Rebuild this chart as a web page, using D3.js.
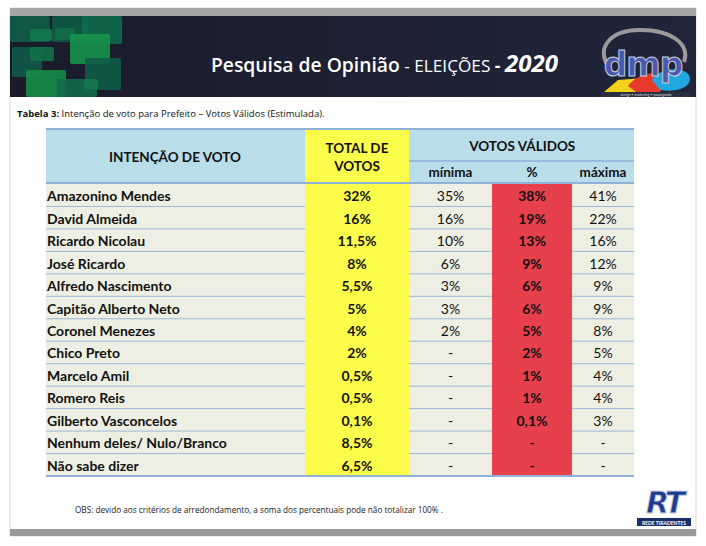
<!DOCTYPE html>
<html><head><meta charset="utf-8">
<script src="https://cdn.jsdelivr.net/npm/d3@7"></script>
<style>body{margin:0;background:#fff}svg{display:block}</style>
</head><body>
<svg id="c" width="706" height="546"></svg>
<script>
const names = ["Amazonino Mendes","David Almeida","Ricardo Nicolau","José Ricardo","Alfredo Nascimento","Capitão Alberto Neto","Coronel Menezes","Chico Preto","Marcelo Amil","Romero Reis","Gilberto Vasconcelos","Nenhum deles/ Nulo/Branco","Não sabe dizer"];
const totalVotos = ["32%","16%","11,5%","8%","5,5%","5%","4%","2%","0,5%","0,5%","0,1%","8,5%","6,5%"];
const minima = ["35%","16%","10%","6%","3%","3%","2%","-","-","-","-","-","-"];
const pct = ["38%","19%","13%","9%","6%","6%","5%","2%","1%","1%","0,1%","-","-"];
const maxima = ["41%","22%","16%","12%","9%","9%","8%","5%","4%","4%","3%","-","-"];
const columns = ["nome","total","minima","pct","maxima"];

const svg = d3.select("#c");
const F = "Lato, 'Open Sans', sans-serif";

// page frame
svg.append("rect").attr("x",10).attr("y",8).attr("width",686).attr("height",528).attr("fill","#fff").attr("stroke","#d8d8d8");
svg.append("rect").attr("x",10).attr("y",8).attr("width",686).attr("height",8).attr("fill","#a6a6a6");
svg.append("rect").attr("x",10).attr("y",529).attr("width",686).attr("height",7).attr("fill","#9a9a9a");

// banner
const defs = svg.append("defs");
const g1 = defs.append("linearGradient").attr("id","bn").attr("x1","0").attr("x2","1");
g1.append("stop").attr("offset","0").attr("stop-color","#1a1c2a");
g1.append("stop").attr("offset","1").attr("stop-color","#20253a");
svg.append("rect").attr("x",10).attr("y",16).attr("width",686).attr("height",81).attr("fill","url(#bn)");
// decorative green squares
const sq = [[10,16,40,26,"#0f5f48"],[52,16,36,26,"#0e5a45"],[82,16,40,28,"#106b4d"],[30,29,22,12,"#137a4c"],[55,28,20,12,"#117048"],[70,34,40,30,"#16924d"],[12,47,30,30,"#0f5a47"],[30,47,24,14,"#127048"],[85,58,36,32,"#0e5c47"],[26,70,40,27,"#178c48"],[57,79,40,18,"#126a4a"],[84,79,14,10,"#14774b"]];
svg.append("g").selectAll("rect").data(sq).join("rect")
  .attr("x",d=>d[0]).attr("y",d=>d[1]).attr("width",d=>d[2]).attr("height",d=>d[3])
  .attr("rx",2).attr("fill",d=>d[4]).attr("opacity",0.9);

const title = svg.append("text").attr("x",211).attr("y",72).attr("fill","#fff").attr("font-family","'Open Sans', sans-serif");
title.append("tspan").attr("font-weight","600").attr("font-size",19.3).text("Pesquisa de Opinião");
title.append("tspan").attr("font-size",17.2).text(" - ELEIÇÕES ");
title.append("tspan").attr("font-weight","700").attr("font-size",17.5).text("- ");
title.append("tspan").attr("font-weight","700").attr("font-style","italic").attr("font-size",24).text("2020");

// dmp logo
const lg = svg.append("g");
lg.append("path").attr("d","M608,66 C596,46 612,30 640,30 C672,30 690,44 684,62").attr("fill","none").attr("stroke","#9a9a9a").attr("stroke-width",4);
lg.append("path").attr("d","M604,92 L618,80 L644,78 L652,92 Z").attr("fill","#f2d21a");
lg.append("path").attr("d","M628,86 C636,74 660,68 668,78 L660,92 L636,92 Z").attr("fill","#e63a2e");
lg.append("path").attr("d","M652,80 C660,66 688,66 690,78 C690,90 672,92 660,90 Z").attr("fill","#21a7e0");
lg.append("text").attr("x",643).attr("y",76).attr("text-anchor","middle").attr("font-family","'DejaVu Sans', sans-serif").attr("font-size",33).attr("font-weight","700")
  .attr("fill","#4a58b0").attr("stroke","#c9c9d8").attr("stroke-width",1).attr("letter-spacing",-1).text("dmp");
lg.append("rect").attr("x",601).attr("y",92).attr("width",90).attr("height",5).attr("fill","#2a2f40");
lg.append("text").attr("x",646).attr("y",96).attr("text-anchor","middle").attr("font-family",F).attr("font-size",3.5).attr("fill","#ddd").text("design • marketing • propaganda");

// caption
const cap = svg.append("text").attr("x",17).attr("y",117).attr("font-family","'Open Sans', sans-serif").attr("font-size",9.5).attr("fill","#111");
cap.append("tspan").attr("font-weight","700").text("Tabela 3:");
cap.append("tspan").text(" Intenção de voto para Prefeito – Votos Válidos (Estimulada).");

// table
const colX = d3.scaleOrdinal().domain(columns).range([46,305,409,492,572]);
const colW = d3.scaleOrdinal().domain(columns).range([259,104,83,80,62]);
const tTop = 129, hMid = 161, hBot = 184, tBot = 476;
const y = d3.scaleBand().domain(d3.range(names.length)).range([hBot,tBot]);

const C = {head:"#b9dde9", row:"#eeefe3", yel:"#fcfc4a", red:"#e83f4d", line:"#9ab8d8"};
svg.append("rect").attr("x",46).attr("y",tTop).attr("width",588).attr("height",hBot-tTop).attr("fill",C.head);
svg.append("rect").attr("x",46).attr("y",hBot).attr("width",588).attr("height",tBot-hBot).attr("fill",C.row);
// row lines
svg.append("g").selectAll("line").data(d3.range(1,names.length)).join("line")
  .attr("x1",46).attr("x2",634).attr("y1",d=>y(d)).attr("y2",d=>y(d)).attr("stroke",C.line).attr("stroke-width",1);
// colored columns
svg.append("rect").attr("x",colX("total")).attr("y",tTop).attr("width",colW("total")).attr("height",tBot-tTop).attr("fill",C.yel);
svg.append("rect").attr("x",colX("pct")).attr("y",hBot).attr("width",colW("pct")).attr("height",tBot-hBot).attr("fill",C.red);
// header lines
svg.append("line").attr("x1",46).attr("x2",634).attr("y1",tTop).attr("y2",tTop).attr("stroke","#8fb1da").attr("stroke-width",2);
svg.append("line").attr("x1",409).attr("x2",634).attr("y1",hMid).attr("y2",hMid).attr("stroke","#8fb1da").attr("stroke-width",1.5);
svg.append("line").attr("x1",46).attr("x2",634).attr("y1",hBot-1).attr("y2",hBot-1).attr("stroke","#8fb1da").attr("stroke-width",2);
svg.append("line").attr("x1",46).attr("x2",634).attr("y1",tBot).attr("y2",tBot).attr("stroke","#8fb1da").attr("stroke-width",2);

const cx = c => colX(c) + colW(c)/2;
const hd = svg.append("g").attr("font-family",F).attr("font-weight","700").attr("fill","#111").attr("text-anchor","middle").attr("font-size",13.5);
hd.append("text").attr("x",175).attr("y",162).text("INTENÇÃO DE VOTO");
hd.append("text").attr("x",cx("total")).attr("y",153).text("TOTAL DE");
hd.append("text").attr("x",cx("total")).attr("y",171).text("VOTOS");
hd.append("text").attr("x",cx("pct")+(cx("minima")-cx("pct"))*0.12).attr("y",151).text("VOTOS VÁLIDOS");
hd.append("text").attr("x",cx("minima")).attr("y",177).text("mínima");
hd.append("text").attr("x",cx("pct")).attr("y",177).text("%");
hd.append("text").attr("x",cx("maxima")).attr("y",177).text("máxima");

const rows = svg.append("g").attr("font-family",F).attr("font-size",14).attr("fill","#111");
const bl = i => y(i) + y.bandwidth()/2 + 6;
rows.selectAll(".nm").data(names).join("text").attr("class","nm").attr("x",47).attr("y",(d,i)=>bl(i)).attr("font-weight","700").text(d=>d);
const cols = [["total",totalVotos,"700"],["minima",minima,"400"],["pct",pct,"700"],["maxima",maxima,"400"]];
cols.forEach(([c,arr,w])=>{
  rows.append("g").selectAll("text").data(arr).join("text")
    .attr("x",cx(c)).attr("y",(d,i)=>bl(i)).attr("text-anchor","middle").attr("font-weight",w).text(d=>d);
});

// footer
svg.append("text").attr("x",75).attr("y",513).attr("font-family","'Open Sans', sans-serif").attr("font-size",8.2).attr("fill","#222")
  .text("OBS: devido aos critérios de arredondamento, a soma dos percentuais pode não totalizar 100% .");

// RT logo
const rt = svg.append("g");
rt.append("text").attr("x",664).attr("y",513).attr("text-anchor","middle").attr("font-family","'DejaVu Sans', sans-serif").attr("font-weight","700").attr("font-style","italic")
  .attr("font-size",30).attr("fill","#1f3d8f").attr("stroke","#c8d0e0").attr("stroke-width",1).attr("letter-spacing",-3).text("RT");
rt.append("rect").attr("x",637).attr("y",518).attr("width",54).attr("height",8).attr("fill","#1a2f6a");
rt.append("text").attr("x",664).attr("y",524.5).attr("text-anchor","middle").attr("font-family",F).attr("font-weight","700").attr("font-size",5).attr("fill","#fff").text("REDE TIRADENTES");
</script>
</body></html>
